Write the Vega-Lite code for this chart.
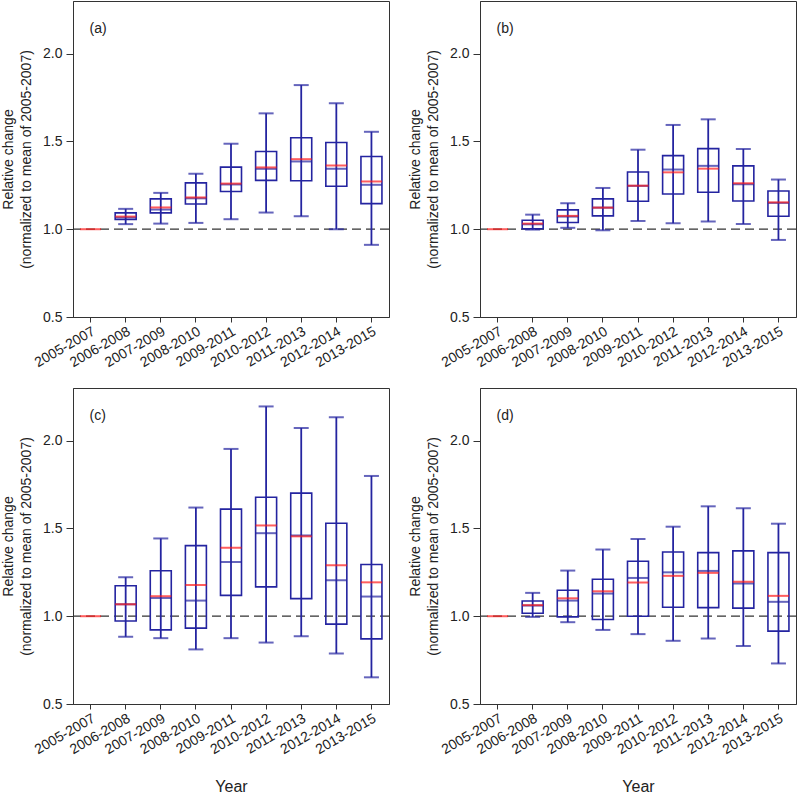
{
  "$schema": "https://vega.github.io/schema/vega-lite/v6.json",
  "padding": {"left": 1, "top": 0, "right": 1, "bottom": 0},
  "background": "white",
  "config": {
    "font": "Liberation Sans",
    "view": {"stroke": "#333", "strokeWidth": 1},
    "axis": {"labelFont": "Liberation Sans", "titleFont": "Liberation Sans", "labelFontSize": 14, "titleFontSize": 14, "titleFontWeight": "normal", "labelColor": "#222", "titleColor": "#222", "domainColor": "#333", "tickColor": "#333", "grid": false}
  },
  "datasets": {
    "box": [
      {"panel": "a", "year": "2005-2007", "lo": 1, "q1": 1, "med": 1, "mean": 1, "q3": 1, "hi": 1},
      {"panel": "a", "year": "2006-2008", "lo": 1.029, "q1": 1.055, "med": 1.066, "mean": 1.072, "q3": 1.093, "hi": 1.116},
      {"panel": "a", "year": "2007-2009", "lo": 1.032, "q1": 1.093, "med": 1.112, "mean": 1.124, "q3": 1.173, "hi": 1.207},
      {"panel": "a", "year": "2008-2010", "lo": 1.036, "q1": 1.144, "med": 1.176, "mean": 1.181, "q3": 1.264, "hi": 1.316},
      {"panel": "a", "year": "2009-2011", "lo": 1.057, "q1": 1.215, "med": 1.255, "mean": 1.26, "q3": 1.354, "hi": 1.487},
      {"panel": "a", "year": "2010-2012", "lo": 1.095, "q1": 1.278, "med": 1.344, "mean": 1.352, "q3": 1.443, "hi": 1.66},
      {"panel": "a", "year": "2011-2013", "lo": 1.074, "q1": 1.276, "med": 1.386, "mean": 1.399, "q3": 1.521, "hi": 1.821},
      {"panel": "a", "year": "2012-2014", "lo": 1.0, "q1": 1.245, "med": 1.344, "mean": 1.363, "q3": 1.494, "hi": 1.717},
      {"panel": "a", "year": "2013-2015", "lo": 0.911, "q1": 1.146, "med": 1.253, "mean": 1.272, "q3": 1.414, "hi": 1.555},
      {"panel": "b", "year": "2005-2007", "lo": 1, "q1": 1, "med": 1, "mean": 1, "q3": 1, "hi": 1},
      {"panel": "b", "year": "2006-2008", "lo": 0.998, "q1": 1.003, "med": 1.028, "mean": 1.032, "q3": 1.051, "hi": 1.083},
      {"panel": "b", "year": "2007-2009", "lo": 1.008, "q1": 1.038, "med": 1.072, "mean": 1.076, "q3": 1.11, "hi": 1.148},
      {"panel": "b", "year": "2008-2010", "lo": 0.994, "q1": 1.076, "med": 1.123, "mean": 1.123, "q3": 1.173, "hi": 1.235},
      {"panel": "b", "year": "2009-2011", "lo": 1.047, "q1": 1.159, "med": 1.247, "mean": 1.248, "q3": 1.326, "hi": 1.453},
      {"panel": "b", "year": "2010-2012", "lo": 1.034, "q1": 1.201, "med": 1.34, "mean": 1.324, "q3": 1.419, "hi": 1.594},
      {"panel": "b", "year": "2011-2013", "lo": 1.044, "q1": 1.211, "med": 1.361, "mean": 1.345, "q3": 1.459, "hi": 1.626},
      {"panel": "b", "year": "2012-2014", "lo": 1.03, "q1": 1.161, "med": 1.256, "mean": 1.262, "q3": 1.361, "hi": 1.457},
      {"panel": "b", "year": "2013-2015", "lo": 0.939, "q1": 1.074, "med": 1.15, "mean": 1.153, "q3": 1.218, "hi": 1.283},
      {"panel": "c", "year": "2005-2007", "lo": 1, "q1": 1, "med": 1, "mean": 1, "q3": 1, "hi": 1},
      {"panel": "c", "year": "2006-2008", "lo": 0.883, "q1": 0.973, "med": 1.068, "mean": 1.068, "q3": 1.174, "hi": 1.222},
      {"panel": "c", "year": "2007-2009", "lo": 0.875, "q1": 0.922, "med": 1.104, "mean": 1.114, "q3": 1.259, "hi": 1.443},
      {"panel": "c", "year": "2008-2010", "lo": 0.811, "q1": 0.932, "med": 1.089, "mean": 1.178, "q3": 1.402, "hi": 1.619},
      {"panel": "c", "year": "2009-2011", "lo": 0.875, "q1": 1.119, "med": 1.309, "mean": 1.39, "q3": 1.61, "hi": 1.953},
      {"panel": "c", "year": "2010-2012", "lo": 0.85, "q1": 1.167, "med": 1.473, "mean": 1.517, "q3": 1.678, "hi": 2.195},
      {"panel": "c", "year": "2011-2013", "lo": 0.886, "q1": 1.1, "med": 1.46, "mean": 1.455, "q3": 1.701, "hi": 2.072},
      {"panel": "c", "year": "2012-2014", "lo": 0.788, "q1": 0.955, "med": 1.205, "mean": 1.29, "q3": 1.53, "hi": 2.134},
      {"panel": "c", "year": "2013-2015", "lo": 0.652, "q1": 0.871, "med": 1.112, "mean": 1.193, "q3": 1.295, "hi": 1.799},
      {"panel": "d", "year": "2005-2007", "lo": 1, "q1": 1, "med": 1, "mean": 1, "q3": 1, "hi": 1},
      {"panel": "d", "year": "2006-2008", "lo": 0.996, "q1": 1.017, "med": 1.061, "mean": 1.063, "q3": 1.087, "hi": 1.133},
      {"panel": "d", "year": "2007-2009", "lo": 0.966, "q1": 0.996, "med": 1.089, "mean": 1.102, "q3": 1.148, "hi": 1.26},
      {"panel": "d", "year": "2008-2010", "lo": 0.922, "q1": 0.981, "med": 1.129, "mean": 1.142, "q3": 1.211, "hi": 1.38},
      {"panel": "d", "year": "2009-2011", "lo": 0.898, "q1": 1.0, "med": 1.218, "mean": 1.192, "q3": 1.313, "hi": 1.44},
      {"panel": "d", "year": "2010-2012", "lo": 0.86, "q1": 1.051, "med": 1.25, "mean": 1.23, "q3": 1.366, "hi": 1.51},
      {"panel": "d", "year": "2011-2013", "lo": 0.873, "q1": 1.049, "med": 1.258, "mean": 1.247, "q3": 1.362, "hi": 1.626},
      {"panel": "d", "year": "2012-2014", "lo": 0.831, "q1": 1.046, "med": 1.186, "mean": 1.197, "q3": 1.372, "hi": 1.615},
      {"panel": "d", "year": "2013-2015", "lo": 0.731, "q1": 0.915, "med": 1.082, "mean": 1.116, "q3": 1.362, "hi": 1.527}
    ],
    "labels": [
      {"panel": "a", "year": "2005-2007", "y": 2.14, "text": "(a)"},
      {"panel": "b", "year": "2005-2007", "y": 2.14, "text": "(b)"},
      {"panel": "c", "year": "2005-2007", "y": 2.14, "text": "(c)"},
      {"panel": "d", "year": "2005-2007", "y": 2.14, "text": "(d)"}
    ],
    "ref": [{"v": 1}]
  },
  "vconcat": [
    {"hconcat": [
      {"width": 316, "height": 316, "layer": [
        {"data": {"name": "ref"}, "mark": {"type": "rule", "strokeDash": [9, 5], "color": "#333", "strokeWidth": 1.2}, "encoding": {"y": {"field": "v", "type": "quantitative", "scale": {"domain": [0.5, 2.3], "nice": false, "zero": false}, "axis": {"values": [0.5, 1, 1.5, 2], "format": ".1f", "tickSize": 7, "labelPadding": 4, "titlePadding": 9, "titleLineHeight": 18, "title": ["Relative change", "(normalized to mean of 2005-2007)"]}}}},
        {"data": {"name": "box"}, "transform": [{"filter": "datum.panel=='a'"}], "encoding": {"x": {"field": "year", "type": "nominal", "sort": null, "scale": {"domain": ["2005-2007", "2006-2008", "2007-2009", "2008-2010", "2009-2011", "2010-2012", "2011-2013", "2012-2014", "2013-2015"], "paddingInner": 0, "paddingOuter": 0}, "axis": {"title": null, "labelAngle": -30, "labelFontSize": 14, "tickSize": 5, "labelPadding": 2}}}, "layer": [
          {"transform": [{"filter": "datum.q3 > datum.q1"}], "mark": {"type": "rule", "color": "#2424a0", "strokeWidth": 1.8}, "encoding": {"y": {"field": "lo", "type": "quantitative"}, "y2": {"field": "hi"}}},
          {"transform": [{"filter": "datum.q3 > datum.q1"}], "mark": {"type": "bar", "filled": false, "stroke": "#2424a0", "strokeWidth": 1.6, "size": 21, "fill": null}, "encoding": {"y": {"field": "q1", "type": "quantitative"}, "y2": {"field": "q3"}}},
          {"transform": [{"filter": "datum.q3 > datum.q1"}], "mark": {"type": "tick", "color": "#2424a0", "size": 15, "thickness": 2}, "encoding": {"y": {"field": "lo", "type": "quantitative"}}},
          {"transform": [{"filter": "datum.q3 > datum.q1"}], "mark": {"type": "tick", "color": "#2424a0", "size": 15, "thickness": 2}, "encoding": {"y": {"field": "hi", "type": "quantitative"}}},
          {"transform": [{"filter": "datum.q3 > datum.q1"}], "mark": {"type": "tick", "color": "#2424a0", "size": 21, "thickness": 2}, "encoding": {"y": {"field": "med", "type": "quantitative"}}},
          {"mark": {"type": "tick", "color": "#ff1a1a", "size": 21, "thickness": 2}, "encoding": {"y": {"field": "mean", "type": "quantitative"}}}
        ]},
        {"data": {"name": "labels"}, "transform": [{"filter": "datum.panel=='a'"}], "mark": {"type": "text", "align": "left", "baseline": "middle", "fontSize": 14, "color": "#222", "dx": -1}, "encoding": {"x": {"field": "year", "type": "nominal", "sort": null}, "y": {"field": "y", "type": "quantitative"}, "text": {"field": "text"}}}
      ]},
      {"width": 316, "height": 316, "layer": [
        {"data": {"name": "ref"}, "mark": {"type": "rule", "strokeDash": [9, 5], "color": "#333", "strokeWidth": 1.2}, "encoding": {"y": {"field": "v", "type": "quantitative", "scale": {"domain": [0.5, 2.3], "nice": false, "zero": false}, "axis": {"values": [0.5, 1, 1.5, 2], "format": ".1f", "tickSize": 7, "labelPadding": 4, "titlePadding": 9, "titleLineHeight": 18, "title": ["Relative change", "(normalized to mean of 2005-2007)"]}}}},
        {"data": {"name": "box"}, "transform": [{"filter": "datum.panel=='b'"}], "encoding": {"x": {"field": "year", "type": "nominal", "sort": null, "scale": {"domain": ["2005-2007", "2006-2008", "2007-2009", "2008-2010", "2009-2011", "2010-2012", "2011-2013", "2012-2014", "2013-2015"], "paddingInner": 0, "paddingOuter": 0}, "axis": {"title": null, "labelAngle": -30, "labelFontSize": 14, "tickSize": 5, "labelPadding": 2}}}, "layer": [
          {"transform": [{"filter": "datum.q3 > datum.q1"}], "mark": {"type": "rule", "color": "#2424a0", "strokeWidth": 1.8}, "encoding": {"y": {"field": "lo", "type": "quantitative"}, "y2": {"field": "hi"}}},
          {"transform": [{"filter": "datum.q3 > datum.q1"}], "mark": {"type": "bar", "filled": false, "stroke": "#2424a0", "strokeWidth": 1.6, "size": 21, "fill": null}, "encoding": {"y": {"field": "q1", "type": "quantitative"}, "y2": {"field": "q3"}}},
          {"transform": [{"filter": "datum.q3 > datum.q1"}], "mark": {"type": "tick", "color": "#2424a0", "size": 15, "thickness": 2}, "encoding": {"y": {"field": "lo", "type": "quantitative"}}},
          {"transform": [{"filter": "datum.q3 > datum.q1"}], "mark": {"type": "tick", "color": "#2424a0", "size": 15, "thickness": 2}, "encoding": {"y": {"field": "hi", "type": "quantitative"}}},
          {"transform": [{"filter": "datum.q3 > datum.q1"}], "mark": {"type": "tick", "color": "#2424a0", "size": 21, "thickness": 2}, "encoding": {"y": {"field": "med", "type": "quantitative"}}},
          {"mark": {"type": "tick", "color": "#ff1a1a", "size": 21, "thickness": 2}, "encoding": {"y": {"field": "mean", "type": "quantitative"}}}
        ]},
        {"data": {"name": "labels"}, "transform": [{"filter": "datum.panel=='b'"}], "mark": {"type": "text", "align": "left", "baseline": "middle", "fontSize": 14, "color": "#222", "dx": -1}, "encoding": {"x": {"field": "year", "type": "nominal", "sort": null}, "y": {"field": "y", "type": "quantitative"}, "text": {"field": "text"}}}
      ]}
    ], "spacing": 17},
    {"hconcat": [
      {"width": 316, "height": 316, "layer": [
        {"data": {"name": "ref"}, "mark": {"type": "rule", "strokeDash": [9, 5], "color": "#333", "strokeWidth": 1.2}, "encoding": {"y": {"field": "v", "type": "quantitative", "scale": {"domain": [0.5, 2.3], "nice": false, "zero": false}, "axis": {"values": [0.5, 1, 1.5, 2], "format": ".1f", "tickSize": 7, "labelPadding": 4, "titlePadding": 9, "titleLineHeight": 18, "title": ["Relative change", "(normalized to mean of 2005-2007)"]}}}},
        {"data": {"name": "box"}, "transform": [{"filter": "datum.panel=='c'"}], "encoding": {"x": {"field": "year", "type": "nominal", "sort": null, "scale": {"domain": ["2005-2007", "2006-2008", "2007-2009", "2008-2010", "2009-2011", "2010-2012", "2011-2013", "2012-2014", "2013-2015"], "paddingInner": 0, "paddingOuter": 0}, "axis": {"title": "Year", "titleFontSize": 16, "titlePadding": 22, "labelAngle": -30, "labelFontSize": 14, "tickSize": 5, "labelPadding": 2}}}, "layer": [
          {"transform": [{"filter": "datum.q3 > datum.q1"}], "mark": {"type": "rule", "color": "#2424a0", "strokeWidth": 1.8}, "encoding": {"y": {"field": "lo", "type": "quantitative"}, "y2": {"field": "hi"}}},
          {"transform": [{"filter": "datum.q3 > datum.q1"}], "mark": {"type": "bar", "filled": false, "stroke": "#2424a0", "strokeWidth": 1.6, "size": 21, "fill": null}, "encoding": {"y": {"field": "q1", "type": "quantitative"}, "y2": {"field": "q3"}}},
          {"transform": [{"filter": "datum.q3 > datum.q1"}], "mark": {"type": "tick", "color": "#2424a0", "size": 15, "thickness": 2}, "encoding": {"y": {"field": "lo", "type": "quantitative"}}},
          {"transform": [{"filter": "datum.q3 > datum.q1"}], "mark": {"type": "tick", "color": "#2424a0", "size": 15, "thickness": 2}, "encoding": {"y": {"field": "hi", "type": "quantitative"}}},
          {"transform": [{"filter": "datum.q3 > datum.q1"}], "mark": {"type": "tick", "color": "#2424a0", "size": 21, "thickness": 2}, "encoding": {"y": {"field": "med", "type": "quantitative"}}},
          {"mark": {"type": "tick", "color": "#ff1a1a", "size": 21, "thickness": 2}, "encoding": {"y": {"field": "mean", "type": "quantitative"}}}
        ]},
        {"data": {"name": "labels"}, "transform": [{"filter": "datum.panel=='c'"}], "mark": {"type": "text", "align": "left", "baseline": "middle", "fontSize": 14, "color": "#222", "dx": -1}, "encoding": {"x": {"field": "year", "type": "nominal", "sort": null}, "y": {"field": "y", "type": "quantitative"}, "text": {"field": "text"}}}
      ]},
      {"width": 316, "height": 316, "layer": [
        {"data": {"name": "ref"}, "mark": {"type": "rule", "strokeDash": [9, 5], "color": "#333", "strokeWidth": 1.2}, "encoding": {"y": {"field": "v", "type": "quantitative", "scale": {"domain": [0.5, 2.3], "nice": false, "zero": false}, "axis": {"values": [0.5, 1, 1.5, 2], "format": ".1f", "tickSize": 7, "labelPadding": 4, "titlePadding": 9, "titleLineHeight": 18, "title": ["Relative change", "(normalized to mean of 2005-2007)"]}}}},
        {"data": {"name": "box"}, "transform": [{"filter": "datum.panel=='d'"}], "encoding": {"x": {"field": "year", "type": "nominal", "sort": null, "scale": {"domain": ["2005-2007", "2006-2008", "2007-2009", "2008-2010", "2009-2011", "2010-2012", "2011-2013", "2012-2014", "2013-2015"], "paddingInner": 0, "paddingOuter": 0}, "axis": {"title": "Year", "titleFontSize": 16, "titlePadding": 22, "labelAngle": -30, "labelFontSize": 14, "tickSize": 5, "labelPadding": 2}}}, "layer": [
          {"transform": [{"filter": "datum.q3 > datum.q1"}], "mark": {"type": "rule", "color": "#2424a0", "strokeWidth": 1.8}, "encoding": {"y": {"field": "lo", "type": "quantitative"}, "y2": {"field": "hi"}}},
          {"transform": [{"filter": "datum.q3 > datum.q1"}], "mark": {"type": "bar", "filled": false, "stroke": "#2424a0", "strokeWidth": 1.6, "size": 21, "fill": null}, "encoding": {"y": {"field": "q1", "type": "quantitative"}, "y2": {"field": "q3"}}},
          {"transform": [{"filter": "datum.q3 > datum.q1"}], "mark": {"type": "tick", "color": "#2424a0", "size": 15, "thickness": 2}, "encoding": {"y": {"field": "lo", "type": "quantitative"}}},
          {"transform": [{"filter": "datum.q3 > datum.q1"}], "mark": {"type": "tick", "color": "#2424a0", "size": 15, "thickness": 2}, "encoding": {"y": {"field": "hi", "type": "quantitative"}}},
          {"transform": [{"filter": "datum.q3 > datum.q1"}], "mark": {"type": "tick", "color": "#2424a0", "size": 21, "thickness": 2}, "encoding": {"y": {"field": "med", "type": "quantitative"}}},
          {"mark": {"type": "tick", "color": "#ff1a1a", "size": 21, "thickness": 2}, "encoding": {"y": {"field": "mean", "type": "quantitative"}}}
        ]},
        {"data": {"name": "labels"}, "transform": [{"filter": "datum.panel=='d'"}], "mark": {"type": "text", "align": "left", "baseline": "middle", "fontSize": 14, "color": "#222", "dx": -1}, "encoding": {"x": {"field": "year", "type": "nominal", "sort": null}, "y": {"field": "y", "type": "quantitative"}, "text": {"field": "text"}}}
      ]}
    ], "spacing": 17}
  ],
  "spacing": 16
}
